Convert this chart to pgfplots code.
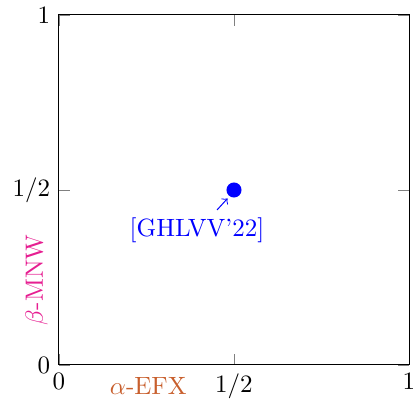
\documentclass[border=0pt]{standalone}
\usepackage{pgfplots}
\pgfplotsset{compat=1.18}
\definecolor{efx}{RGB}{200,95,45}
\definecolor{mnw}{RGB}{230,30,145}
\begin{document}
\begin{tikzpicture}
\begin{axis}[
  scale only axis, width=140pt, height=140pt,
  xmin=0, xmax=1, ymin=0, ymax=1,
  xtick={0,0.5,1}, ytick={0,0.5,1},
  xticklabels={$0$,$1/2$,$1$}, yticklabels={$0$,$1/2$,$1$},
  major tick style={gray}, tick align=inside,
  xlabel={$\alpha$-EFX}, ylabel={$\beta$-MNW},
  xlabel style={text=efx, at={(axis description cs:0.255,0)}, anchor=north, yshift=-1.5pt},
  ylabel style={text=mnw, at={(axis description cs:0,0.243)}, anchor=south, yshift=1pt},
  clip=false,
]
\addplot[only marks, mark=*, mark size=2.8pt, blue] coordinates {(0.5,0.5)};
\node[blue, inner sep=0pt] at ([xshift=-14.8pt,yshift=-16pt]axis cs:0.5,0.5) {[GHLVV'22]};
\draw[->, blue, thin] ([xshift=-6.8pt,yshift=-8pt]axis cs:0.5,0.5) -- ([xshift=-2.6pt,yshift=-3.4pt]axis cs:0.5,0.5);
\end{axis}
\pgfresetboundingbox
\path[use as bounding box] (-23.6pt,-14pt) rectangle (142.4pt,146pt);
\end{tikzpicture}
\end{document}
